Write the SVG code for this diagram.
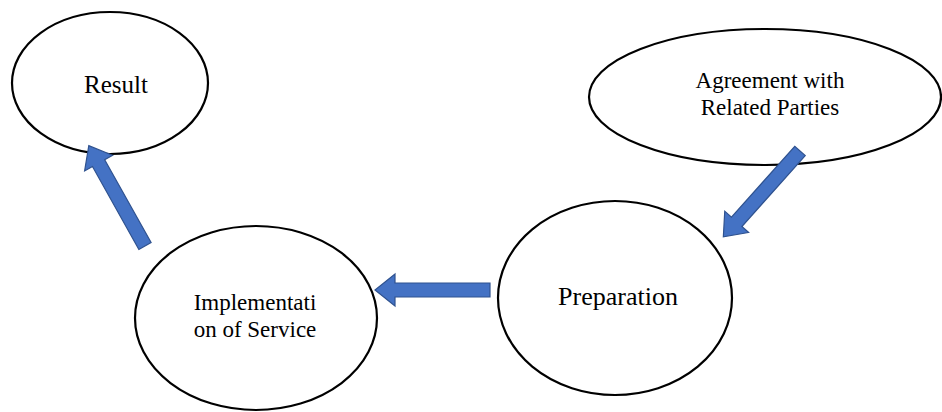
<svg xmlns="http://www.w3.org/2000/svg" width="942" height="412" viewBox="0 0 942 412">
<style>
.node{fill:#fff;stroke:#000;stroke-width:2.2}
text{font-family:'Liberation Serif','Times New Roman',serif;fill:#000;text-anchor:middle}
.arr{fill:#4472C4;stroke:#2F528F;stroke-width:1.2}
</style>
<defs>
<path id="ar" d="M0,-7 L95,-7 L95,-16 L115,0 L95,16 L95,7 L0,7 Z"/>
</defs>
<rect width="942" height="412" fill="#fff"/>
<g id="result"><ellipse class="node" cx="110" cy="83" rx="98" ry="71"/><text font-family="Liberation Serif, serif" x="116" y="93" font-size="25">Result</text></g>
<g id="agreement"><ellipse class="node" cx="765" cy="97" rx="176" ry="68"/><text font-family="Liberation Serif, serif" x="770" y="88" font-size="23">Agreement with</text><text font-family="Liberation Serif, serif" x="770" y="115" font-size="23">Related Parties</text></g>
<g id="implementation"><ellipse class="node" cx="256" cy="318" rx="121" ry="92"/><text font-family="Liberation Serif, serif" x="255" y="310" font-size="23">Implementati</text><text font-family="Liberation Serif, serif" x="255" y="337" font-size="23">on of Service</text></g>
<g id="preparation"><ellipse class="node" cx="615" cy="298" rx="117" ry="97"/><text font-family="Liberation Serif, serif" x="618" y="305" font-size="26">Preparation</text></g>
<g id="connectors">
<use href="#ar" class="arr" transform="translate(145,246) rotate(-119.25)"/>
<use href="#ar" class="arr" transform="translate(490,290) rotate(180)"/>
<use href="#ar" class="arr" transform="translate(800,151) rotate(131.8)"/>
</g>
</svg>
